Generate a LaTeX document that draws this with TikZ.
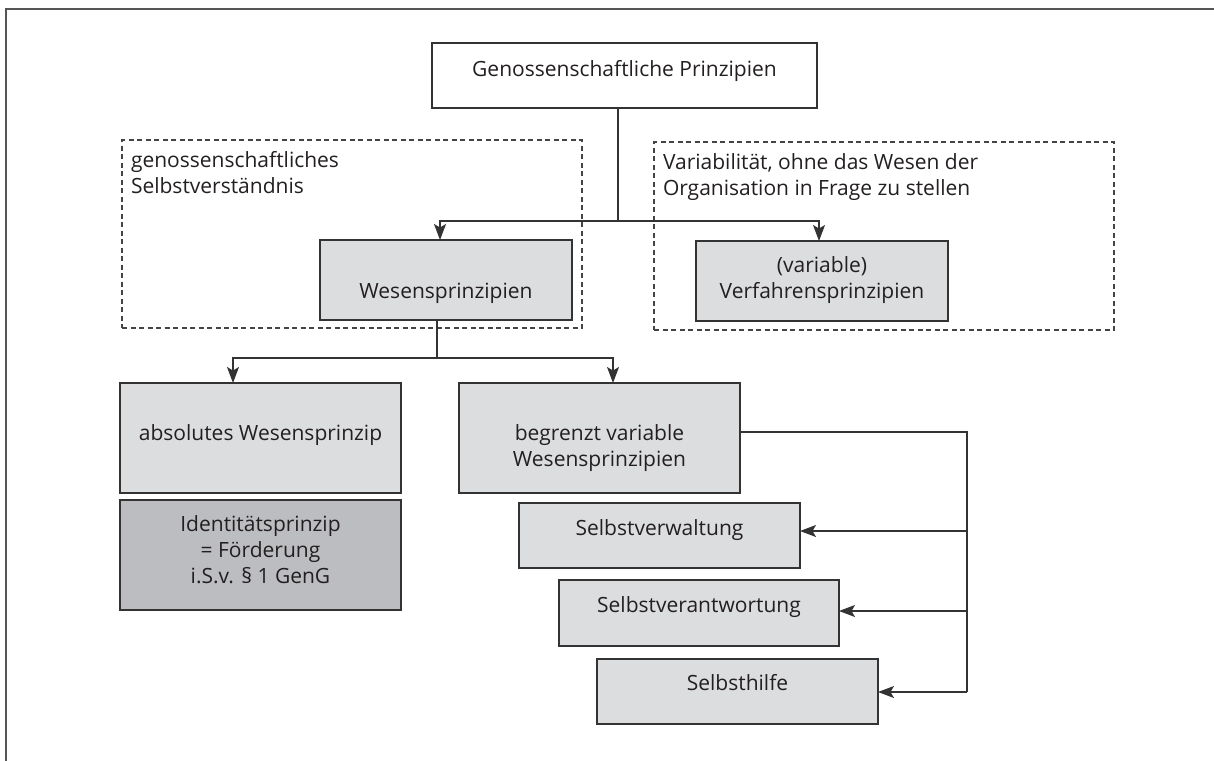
\documentclass[tikz,border=0pt]{standalone}
\usepackage{fontspec}
\setmainfont{Open Sans}
\usetikzlibrary{arrows.meta}
\definecolor{boxgray}{HTML}{DCDDDF}
\definecolor{boxdark}{HTML}{BCBDC0}
\definecolor{linec}{HTML}{333333}
\definecolor{dashc}{HTML}{444444}
\definecolor{textc}{HTML}{231F20}
\definecolor{framec}{HTML}{555555}
\begin{document}
\begin{tikzpicture}[x=1pt,y=-1pt,
  every node/.style={inner sep=0pt, outer sep=0pt},
  box/.style={draw=linec, line width=1.2pt, fill=boxgray},
  darkbox/.style={draw=linec, line width=1.2pt, fill=boxdark},
  whitebox/.style={draw=linec, line width=1.2pt, fill=white},
  group/.style={draw=dashc, line width=1.1pt, dash pattern=on 5pt off 3.5pt},
  txt/.style={font=\fontsize{21}{26}\selectfont, text=textc, align=center, anchor=base},
  ltxt/.style={font=\fontsize{21}{26}\selectfont, text=textc, align=left, anchor=base west},
  conn/.style={draw=linec, line width=1.2pt},
  arr/.style={conn, -{Stealth[length=16pt,width=12pt,inset=3.5pt]}}
]
\useasboundingbox (0,0) rectangle (1214,760);
% outer frame (only top and left edges visible)
\draw[framec, line width=1.3pt] (1230,9) -- (6,9) -- (6,780);

% dashed groups
\node[group, minimum width=460pt, minimum height=188pt] (gl) at (352,234) {};
\node[group, minimum width=460pt, minimum height=188pt] (gr) at (884,236) {};
\node[ltxt] (glt) at (131,193) {genossenschaftliches\\Selbstverständnis};
\node[ltxt] (grt) at (663,195) {Variabilität, ohne das Wesen der\\Organisation in Frage zu stellen};

% boxes
\node[whitebox, minimum width=385pt, minimum height=65pt] (top) at (624.5,75.5) {};
\node[txt] (topt) at (624.5,76) {Genossenschaftliche Prinzipien};

\node[box, minimum width=252pt, minimum height=80pt] (wes) at (446,280) {};
\node[txt] (west) at (446,298) {Wesensprinzipien};

\node[box, minimum width=252pt, minimum height=80pt] (verf) at (822,281) {};
\node[txt] (verft) at (822,298) {(variable)\\Verfahrensprinzipien};

\node[box, minimum width=281pt, minimum height=110pt] (abs) at (260.5,438) {};
\node[txt] (abst) at (260.5,440) {absolutes Wesensprinzip};

\node[darkbox, minimum width=281pt, minimum height=110pt] (ident) at (260.5,555) {};
\node[txt] (identt) at (260.5,583) {Identitätsprinzip\\= Förderung\\i.S.v. § 1 GenG};

\node[box, minimum width=281pt, minimum height=110pt] (begr) at (599.5,438) {};
\node[txt] (begrt) at (599.5,466) {begrenzt variable\\Wesensprinzipien};

\node[box, minimum width=281pt, minimum height=65pt] (sv) at (659.5,535.5) {};
\node[txt] (svt) at (659.5,535) {Selbstverwaltung};

\node[box, minimum width=280pt, minimum height=66pt] (sva) at (699,613) {};
\node[txt] (svat) at (699,612) {Selbstverantwortung};

\node[box, minimum width=281pt, minimum height=65pt] (sh) at (737.5,691.5) {};
\node[txt] (sht) at (737.5,690) {Selbsthilfe};

% connectors
\coordinate (j1) at (618,221);
\draw[conn] (top.south -| j1) -- (j1);
\draw[arr] (j1) -| ([xshift=-6pt]wes.north);
\draw[arr] (j1) -| ([xshift=-3pt]verf.north);

\coordinate (j2) at (437,358);
\draw[conn] (wes.south -| j2) -- (j2);
\draw[arr] (j2) -| ([xshift=-27.5pt]abs.north);
\draw[arr] (j2) -| ([xshift=13.5pt]begr.north);

\coordinate (j3) at (967,432);
\coordinate (b1) at (967,531);
\coordinate (b2) at (967,611);
\coordinate (b3) at (967,692);
\draw[conn] (begr.east |- j3) -- (j3) -- (b3);
\draw[arr] (b1) -- (sv.east |- b1);
\draw[arr] (b2) -- (sva.east |- b2);
\draw[arr] (b3) -- (sh.east |- b3);
\end{tikzpicture}
\end{document}
